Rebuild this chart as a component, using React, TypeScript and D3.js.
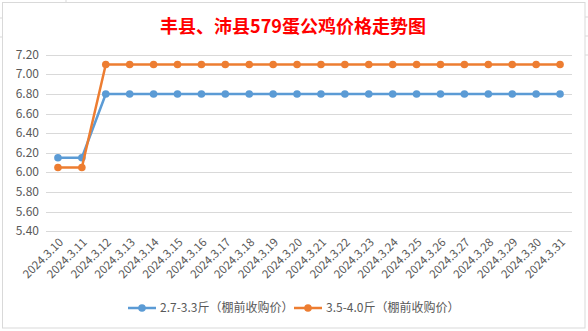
import React from "react";
import * as d3 from "d3";

const categories = ["2024.3.10","2024.3.11","2024.3.12","2024.3.13","2024.3.14","2024.3.15","2024.3.16","2024.3.17","2024.3.18","2024.3.19","2024.3.20","2024.3.21","2024.3.22","2024.3.23","2024.3.24","2024.3.25","2024.3.26","2024.3.27","2024.3.28","2024.3.29","2024.3.30","2024.3.31"];
const seriesA = [6.15,6.15,6.8,6.8,6.8,6.8,6.8,6.8,6.8,6.8,6.8,6.8,6.8,6.8,6.8,6.8,6.8,6.8,6.8,6.8,6.8,6.8];
const seriesB = [6.05,6.05,7.1,7.1,7.1,7.1,7.1,7.1,7.1,7.1,7.1,7.1,7.1,7.1,7.1,7.1,7.1,7.1,7.1,7.1,7.1,7.1];
const seriesNames = ["2.7-3.3斤（棚前收购价）", "3.5-4.0斤（棚前收购价）"];
const yTicks = [5.4,5.6,5.8,6.0,6.2,6.4,6.6,6.8,7.0,7.2];
const title = "丰县、沛县579蛋公鸡价格走势图";

export default function App() {
  const W = 588, H = 331;
  const x = d3.scaleBand<string>().domain(categories).range([46, 572]);
  const y = d3.scaleLinear().domain([5.4, 7.2]).range([231.3, 54.7]);
  const cx = (c: string) => (x(c) as number) + x.bandwidth() / 2;
  const line = d3.line<number>().x((_, i) => cx(categories[i])).y(d => y(d));
  const series = [
    { vals: seriesA, color: "#5B9BD5" },
    { vals: seriesB, color: "#ED7D31" },
  ];
  const font = "'Microsoft YaHei','Noto Sans CJK SC','Noto Sans',sans-serif";
  return (
    <svg width={W} height={H} style={{ position: "absolute", left: 0, top: 0, display: "block" }}>
      <rect x={0} y={0} width={W} height={H} fill="#fff" />
      <line x1={66} y1={0} x2={66} y2={2} stroke="#d9d9d9" />
      <line x1={0} y1={18} x2={2} y2={18} stroke="#d9d9d9" />
      <line x1={0} y1={37} x2={2} y2={37} stroke="#d9d9d9" />
      <line x1={585} y1={17} x2={588} y2={17} stroke="#d9d9d9" />
      <line x1={585} y1={36} x2={588} y2={36} stroke="#d9d9d9" />
      <line x1={585} y1={55} x2={588} y2={55} stroke="#d9d9d9" />
      <rect x={2.5} y={2.5} width={582.5} height={325.5} fill="#fff" stroke="#d9d9d9" />
      <text x={293} y={33} textAnchor="middle" fill="#FF0000" fontSize={18} fontWeight="bold" fontFamily={font}>{title}</text>
      {yTicks.map(t => (
        <g key={t}>
          <line x1={46} x2={572} y1={Math.round(y(t)) + 0.5} y2={Math.round(y(t)) + 0.5} stroke="#d9d9d9" />
          <text x={39} y={y(t) + 4} textAnchor="end" fontSize={12} fill="#595959" fontFamily={font}>{t.toFixed(2)}</text>
        </g>
      ))}
      {categories.map(c => (
        <text key={c} transform={`translate(${cx(c) + 6},${243}) rotate(-45)`} textAnchor="end" fontSize={11.5} fill="#595959" fontFamily={font}>{c}</text>
      ))}
      {series.map((s, i) => (
        <g key={i}>
          <path d={line(s.vals) || ""} fill="none" stroke={s.color} strokeWidth={2.5} strokeLinejoin="round" />
          {s.vals.map((v, j) => (
            <circle key={j} cx={cx(categories[j])} cy={y(v)} r={3.8} fill={s.color} />
          ))}
        </g>
      ))}
      {[0, 1].map(i => {
        const lx = i === 0 ? 128 : 294;
        const color = series[i].color;
        return (
          <g key={i}>
            <line x1={lx} x2={lx + 28} y1={308} y2={308} stroke={color} strokeWidth={2.5} />
            <circle cx={lx + 14} cy={308} r={3.8} fill={color} />
            <text x={lx + 32} y={312} fontSize={12} fill="#595959" fontFamily={font}>{seriesNames[i]}</text>
          </g>
        );
      })}
    </svg>
  );
}
